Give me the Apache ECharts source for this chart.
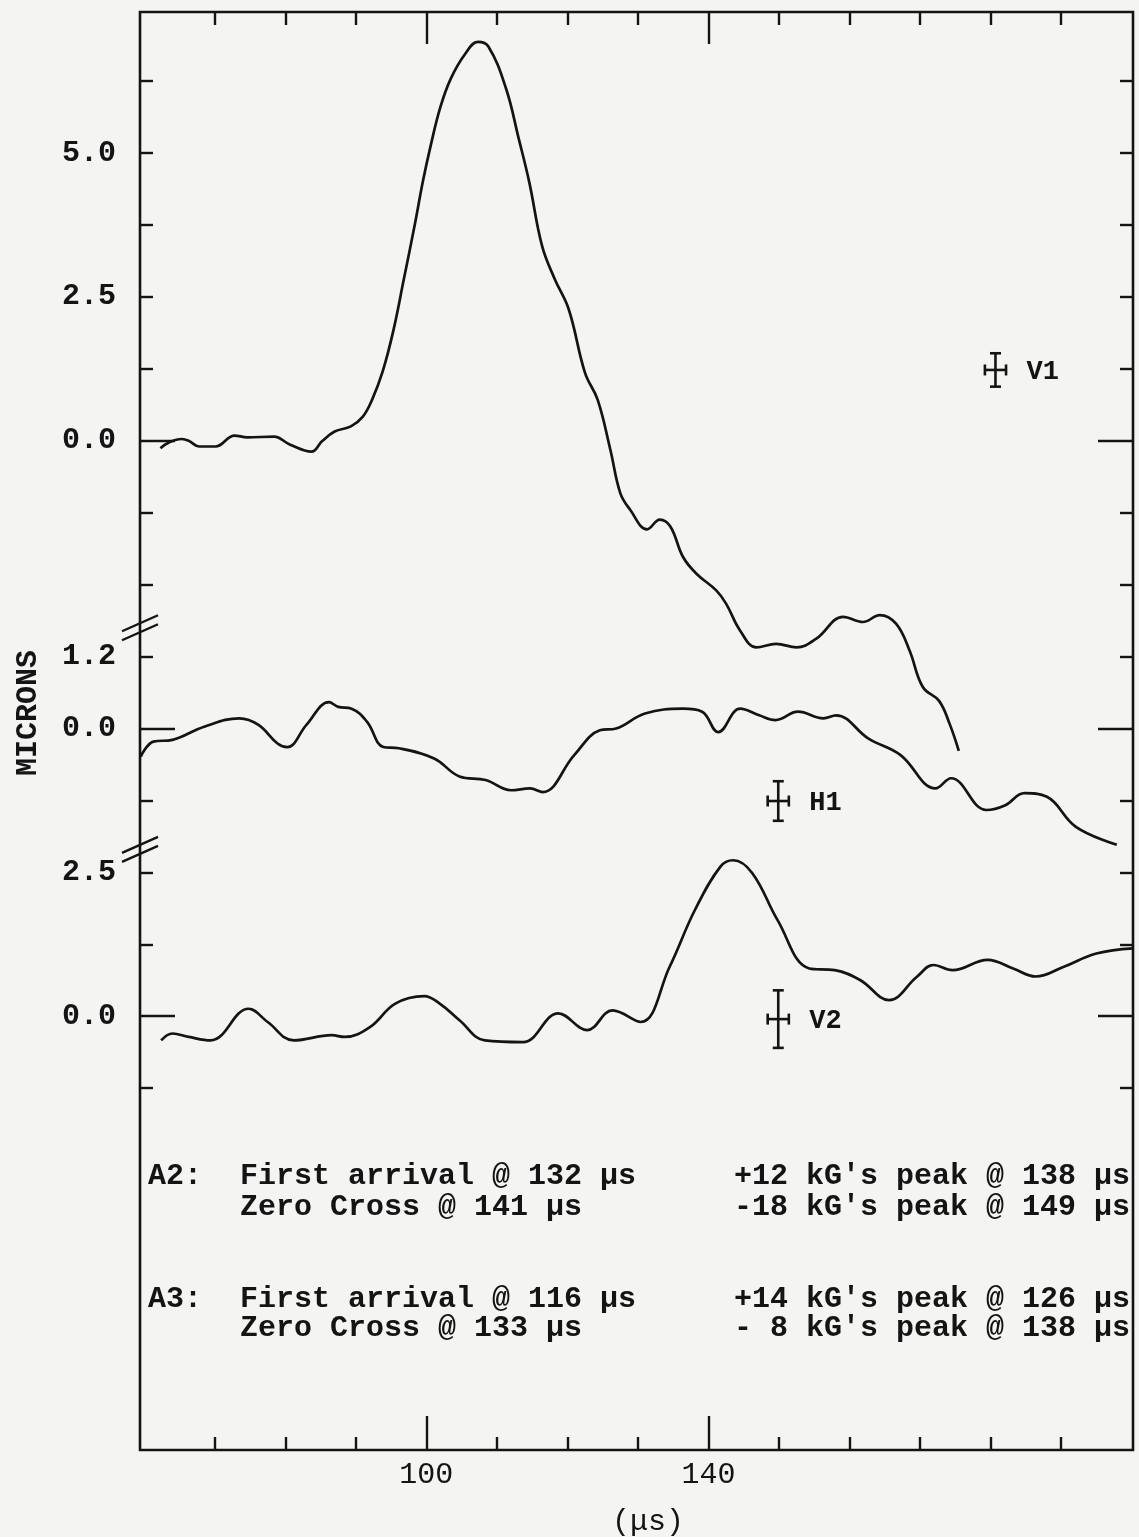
<!DOCTYPE html>
<html><head><meta charset="utf-8">
<script src="https://cdn.jsdelivr.net/npm/echarts@6/dist/echarts.min.js"></script>
<style>html,body{margin:0;padding:0;background:#f4f4f2;}#chart{width:1139px;height:1537px;}</style>
</head><body><div id="chart"></div>
<script>
// ---------------- data (time in µs, displacement in microns) ----------------
const v1Data = [[62.3,-0.13],[63.5,-0.03],[65.3,0.03],[66.3,0.0],[67.8,-0.1],[70.1,-0.1],[72.8,0.09],[74.6,0.06],[78.4,0.07],[80.7,-0.07],[83.7,-0.19],[85.2,-0.01],[87.0,0.16],[89.3,0.25],[91.0,0.42],[92.3,0.71],[93.8,1.2],[95.3,1.9],[96.8,2.8],[98.4,3.78],[99.5,4.5],[100.6,5.12],[102.0,5.8],[103.5,6.3],[105.5,6.72],[107.3,6.93],[108.8,6.85],[111.3,6.12],[113.1,5.25],[114.6,4.49],[116.4,3.39],[118.2,2.81],[120.2,2.28],[122.5,1.18],[124.3,0.71],[126.1,-0.16],[127.5,-0.91],[128.9,-1.2],[131.3,-1.54],[133.1,-1.37],[134.6,-1.49],[136.4,-2.02],[138.3,-2.31],[141.1,-2.6],[142.5,-2.83],[144.5,-3.3],[146.8,-3.59],[149.6,-3.53],[152.5,-3.59],[155.3,-3.44],[159.1,-3.06],[161.9,-3.15],[164.3,-3.03],[166.6,-3.18],[168.5,-3.64],[170.4,-4.28],[172.7,-4.52],[174.2,-4.92],[175.5,-5.39]];
const h1Data = [[59.5,-0.47],[61.3,-0.22],[64.0,-0.19],[68.5,0.03],[73.5,0.17],[76.2,0.06],[78.9,-0.25],[80.3,-0.31],[83.0,0.06],[86.2,0.44],[87.5,0.36],[89.4,0.33],[91.6,0.11],[93.9,-0.31],[96.1,-0.33],[101.1,-0.5],[104.7,-0.8],[108.4,-0.86],[112.0,-1.03],[114.7,-1.0],[116.5,-1.06],[121.0,-0.44],[124.6,-0.03],[126.9,0.0],[131.0,0.25],[136.4,0.33],[139.1,0.28],[141.4,-0.06],[144.5,0.33],[147.2,0.22],[149.5,0.14],[152.7,0.28],[156.3,0.17],[158.1,0.22],[162.7,-0.17],[167.2,-0.44],[172.2,-1.0],[174.4,-0.83],[179.4,-1.36],[182.1,-1.28],[184.8,-1.08],[188.0,-1.14],[192.1,-1.64],[197.9,-1.94]];
const v2Data = [[62.4,-0.42],[64.0,-0.30],[66.3,-0.36],[69.4,-0.42],[74.8,0.13],[77.5,-0.1],[81.2,-0.42],[86.6,-0.33],[88.4,-0.36],[92.0,-0.19],[95.6,0.22],[99.7,0.35],[101.9,0.22],[104.7,-0.07],[108.3,-0.42],[113.7,-0.45],[118.7,0.05],[122.8,-0.24],[126.4,0.1],[130.4,-0.1],[134.5,0.86],[138.1,1.85],[141.7,2.6],[143.5,2.71],[146.2,2.49],[149.8,1.67],[154.3,0.83],[157.9,0.8],[161.5,0.63],[165.6,0.28],[169.6,0.69],[171.9,0.89],[174.6,0.8],[179.6,0.98],[183.2,0.83],[186.4,0.69],[190.4,0.86],[195.0,1.09],[200.2,1.18]];

// resolution marks: [time, displacement, ±time, ±displacement]
const errorBarNames = ['V1','H1','V2'];
const errorBarValues = [[180.7,1.23,1.5,0.29],[149.9,-1.21,1.5,0.33],[149.9,-0.05,1.5,0.5]];

// axis ticks and labels
const xMinorTicks = [70,80,90,110,120,130,150,160,170,180,190];
const xMajorTicks = [100,140];
const xTickLabels = ['100','140'];
const v1Ticks = [-2.5,-1.25,0,1.25,2.5,3.75,5.0,6.25];
const h1Ticks = [-1.2,0,1.2];
const v2Ticks = [-1.25,0,1.25,2.5];
const v1TickLabels = [0.0,2.5,5.0];
const h1TickLabels = [0.0,1.2];
const v2TickLabels = [0.0,2.5];

const notes = [
  ['A2:','First arrival @ 132 μs',"+12 kG's peak @ 138 μs"],
  ['','Zero Cross @ 141 μs',"-18 kG's peak @ 149 μs"],
  ['A3:','First arrival @ 116 μs',"+14 kG's peak @ 126 μs"],
  ['','Zero Cross @ 133 μs',"- 8 kG's peak @ 138 μs"]
];

// ---------------- stacked panel layout (display units = one tick step) ----------------
const panels = {
  V1:{step:1.25, base:0},
  H1:{step:1.2, base:-4},
  V2:{step:1.25, base:-8}
};
const toU = (p, v) => v / panels[p].step + panels[p].base;
const conv = (p, arr) => arr.map(d => [d[0], toU(p, d[1])]);

const labelMap = {};
const addLabels = (p, arr) => arr.forEach(v => { labelMap[toU(p, v).toFixed(3)] = v.toFixed(1); });
addLabels('V1', v1TickLabels); addLabels('H1', h1TickLabels); addLabels('V2', v2TickLabels);
const zeroTicks = ['V1','H1','V2'].map(p => toU(p, 0));
const allTicks = [].concat(v1Ticks.map(v=>toU('V1',v)), h1Ticks.map(v=>toU('H1',v)), v2Ticks.map(v=>toU('V2',v)));
const minorYTicks = allTicks.filter(u => !zeroTicks.some(z => Math.abs(z-u) < 1e-6));
const yLabelValues = Object.keys(labelMap).map(Number);

const X_MIN = 59.4, X_MAX = 200.2, Y_MIN = -14.03, Y_MAX = 5.96;
const INK = '#141414';
const FONT = 'Liberation Mono';
const LW = 2.7;

const chart = echarts.init(document.getElementById('chart'), null, {renderer:'canvas'});
const tickStyle = {color:INK, width:2.4};
const xBase = {type:'value', min:X_MIN, max:X_MAX, splitLine:{show:false}, axisLine:{show:false, onZero:false}};
const yBase = {type:'value', min:Y_MIN, max:Y_MAX, splitLine:{show:false}, axisLine:{show:false, onZero:false}};

const ebData = errorBarValues.map((e, i) => {
  const p = errorBarNames[i];
  const u = toU(p, e[1]);
  const du = e[3] / panels[p].step;
  return [e[0], u, e[0]-e[2], e[0]+e[2], u-du, u+du];
});

chart.setOption({
  animation:false,
  backgroundColor:'#f4f4f2',
  grid:{left:140, right:6, top:12, bottom:87, show:true, borderColor:INK, borderWidth:2.6, backgroundColor:'transparent'},
  xAxis:[
    Object.assign({}, xBase, {position:'bottom', axisTick:{show:true, inside:true, length:13, customValues:xMinorTicks, lineStyle:tickStyle}, axisLabel:{show:false}}),
    Object.assign({}, xBase, {position:'bottom', axisTick:{show:true, inside:true, length:34, customValues:xMajorTicks, lineStyle:tickStyle},
      axisLabel:{show:true, customValues:xMajorTicks, formatter:v => xTickLabels[xMajorTicks.indexOf(v)] || '', color:INK, fontFamily:FONT, fontSize:30, margin:10}}),
    Object.assign({}, xBase, {position:'top', axisTick:{show:true, inside:true, length:13, customValues:xMinorTicks, lineStyle:tickStyle}, axisLabel:{show:false}}),
    Object.assign({}, xBase, {position:'top', axisTick:{show:true, inside:true, length:32, customValues:xMajorTicks, lineStyle:tickStyle}, axisLabel:{show:false}})
  ],
  yAxis:[
    Object.assign({}, yBase, {position:'left', axisTick:{show:true, inside:true, length:13, customValues:minorYTicks, lineStyle:tickStyle},
      axisLabel:{show:true, customValues:yLabelValues, formatter:v => labelMap[v.toFixed(3)] || '', color:INK, fontFamily:FONT, fontWeight:'bold', fontSize:30, margin:24}}),
    Object.assign({}, yBase, {position:'left', axisTick:{show:true, inside:true, length:35, customValues:zeroTicks, lineStyle:tickStyle}, axisLabel:{show:false}}),
    Object.assign({}, yBase, {position:'right', axisTick:{show:true, inside:true, length:13, customValues:minorYTicks, lineStyle:tickStyle}, axisLabel:{show:false}}),
    Object.assign({}, yBase, {position:'right', axisTick:{show:true, inside:true, length:35, customValues:zeroTicks, lineStyle:tickStyle}, axisLabel:{show:false}})
  ],
  series:[
    {name:'V1', type:'line', data:conv('V1', v1Data), smooth:0.4, showSymbol:false, lineStyle:{color:INK, width:LW}},
    {name:'H1', type:'line', data:conv('H1', h1Data), smooth:0.4, showSymbol:false, lineStyle:{color:INK, width:LW}},
    {name:'V2', type:'line', data:conv('V2', v2Data), smooth:0.4, showSymbol:false, lineStyle:{color:INK, width:LW}},
    {name:'resolution', type:'custom', data:ebData, clip:false,
      renderItem:function(params, api){
        const c = api.coord([api.value(0), api.value(1)]);
        const l = api.coord([api.value(2), api.value(1)]);
        const r = api.coord([api.value(3), api.value(1)]);
        const b = api.coord([api.value(0), api.value(4)]);
        const t = api.coord([api.value(0), api.value(5)]);
        const cap = 5.5;
        const st = {stroke:INK, lineWidth:2.6};
        return {type:'group', children:[
          {type:'line', shape:{x1:l[0], y1:c[1], x2:r[0], y2:c[1]}, style:st},
          {type:'line', shape:{x1:c[0], y1:t[1], x2:c[0], y2:b[1]}, style:st},
          {type:'line', shape:{x1:l[0], y1:c[1]-cap, x2:l[0], y2:c[1]+cap}, style:st},
          {type:'line', shape:{x1:r[0], y1:c[1]-cap, x2:r[0], y2:c[1]+cap}, style:st},
          {type:'line', shape:{x1:c[0]-cap, y1:t[1], x2:c[0]+cap, y2:t[1]}, style:st},
          {type:'line', shape:{x1:c[0]-cap, y1:b[1], x2:c[0]+cap, y2:b[1]}, style:st},
          {type:'text', x:c[0]+31, y:c[1]+2, style:{text:errorBarNames[params.dataIndex], fill:INK, font:'bold 27px "Liberation Mono"', verticalAlign:'middle', textAlign:'left'}}
        ]};
      }
    }
  ]
});

// ---------------- decorations: axis breaks, titles, notes ----------------
const axisX = chart.convertToPixel({xAxisIndex:0}, X_MIN);
const breaksU = [-2.6, -5.68];
const g = [];
breaksU.forEach(u => {
  const yc = chart.convertToPixel({yAxisIndex:0}, u);
  [-4.5, 4.5].forEach(off => {
    g.push({type:'line', shape:{x1:axisX-18, y1:yc+off+8, x2:axisX+18, y2:yc+off-8}, style:{stroke:INK, lineWidth:2.4}});
  });
});
g.push({type:'text', x:28, y:713, rotation:Math.PI/2, style:{text:'MICRONS', fill:INK, font:'bold 30px "Liberation Mono"', textAlign:'center', verticalAlign:'middle'}});
g.push({type:'text', x:648, y:1522, style:{text:'(μs)', fill:INK, font:'30px "Liberation Mono"', textAlign:'center', verticalAlign:'middle'}});
const noteY = [1176, 1207, 1299, 1328];
notes.forEach((row, i) => {
  const f = 'bold 30px "Liberation Mono"';
  if (row[0]) g.push({type:'text', x:148, y:noteY[i], style:{text:row[0], fill:INK, font:f, verticalAlign:'middle'}});
  g.push({type:'text', x:240, y:noteY[i], style:{text:row[1], fill:INK, font:f, verticalAlign:'middle'}});
  g.push({type:'text', x:734, y:noteY[i], style:{text:row[2], fill:INK, font:f, verticalAlign:'middle'}});
});
chart.setOption({graphic:g});
</script></body></html>
